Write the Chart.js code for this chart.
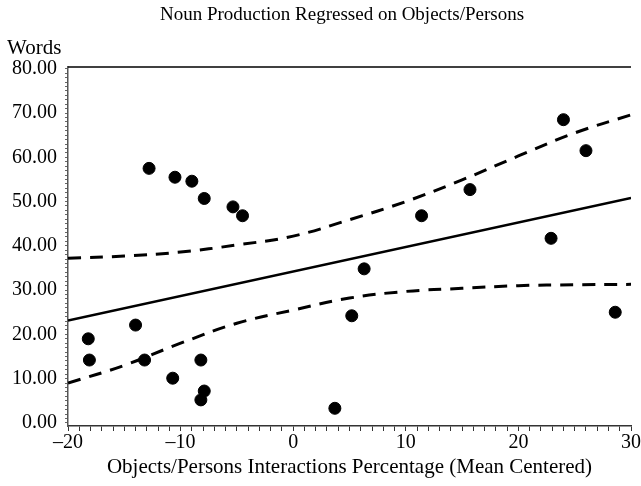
<!DOCTYPE html>
<html>
<head>
<meta charset="utf-8">
<script src="https://cdn.jsdelivr.net/npm/chart.js@4.4.0/dist/chart.umd.min.js"></script>
<style>
  html, body { margin: 0; padding: 0; background: #fff; }
  #wrap { width: 641px; height: 486px; position: relative; }
</style>
</head>
<body>
<div id="wrap"><canvas id="chart"></canvas></div>
<script>
// data
const pointX = [-12.8, -10.5, -9.0, -7.9, -5.35, -4.5, -14.0, -18.2, -18.1, -13.2, -8.2, -10.7, -7.9, -8.2, 3.7, 5.2, 6.3, 11.4, 15.7, 22.9, 24.0, 26.0, 28.6];
const pointY = [57.5, 55.5, 54.6, 50.7, 48.8, 46.8, 22.1, 19.0, 14.2, 14.2, 14.2, 10.1, 7.2, 5.2, 3.3, 24.2, 34.8, 46.8, 52.7, 41.7, 68.5, 61.5, 25.0];

const fitX = [-20, 30];
const fitY = [23.1, 50.8];

const bandX = [-20, -15, -10, -5, 0, 5, 10, 15, 20, 25, 30];
const upperY = [37.2, 37.7, 38.6, 40.2, 42.2, 45.9, 50.0, 54.9, 60.3, 65.5, 69.6];
const lowerY = [9.0, 13.0, 18.0, 22.5, 25.5, 28.2, 29.7, 30.4, 31.0, 31.2, 31.3];

const xTickLabels = { '-20': '\u201320', '-10': '\u201310', '0': '0', '10': '10', '20': '20', '30': '30' };

const serif = '"Liberation Serif", "Times New Roman", serif';

const zip = (xs, ys) => xs.map((x, i) => ({ x, y: ys[i] }));

const textPlugin = {
  id: 'texts',
  afterDraw(chart) {
    const ctx = chart.ctx;
    const a = chart.chartArea;
    ctx.save();
    // top frame line
    ctx.strokeStyle = '#000';
    ctx.lineWidth = 1.5;
    ctx.beginPath();
    ctx.moveTo(a.left, a.top);
    ctx.lineTo(a.right, a.top);
    ctx.stroke();
    ctx.fillStyle = '#000';
    ctx.textBaseline = 'middle';
    ctx.font = '19px ' + serif;
    ctx.textAlign = 'center';
    ctx.fillText('Noun Production Regressed on Objects/Persons', 342, 15);
    ctx.font = '21px ' + serif;
    ctx.textAlign = 'left';
    ctx.fillText('Words', 7, 48);
    ctx.restore();
  }
};

new Chart(document.getElementById('chart'), {
  type: 'scatter',
  data: {
    datasets: [
      {
        label: 'upper',
        type: 'line',
        data: zip(bandX, upperY),
        borderColor: '#000',
        borderWidth: 3,
        borderDash: [13, 9],
        pointRadius: 0,
        tension: 0.4,
        fill: false,
      },
      {
        label: 'lower',
        type: 'line',
        data: zip(bandX, lowerY),
        borderColor: '#000',
        borderWidth: 3,
        borderDash: [13, 9],
        pointRadius: 0,
        tension: 0.4,
        fill: false,
      },
      {
        label: 'fit',
        type: 'line',
        data: zip(fitX, fitY),
        borderColor: '#000',
        borderWidth: 2.5,
        pointRadius: 0,
        fill: false,
      },
      {
        label: 'words',
        data: zip(pointX, pointY),
        backgroundColor: '#000',
        borderColor: '#000',
        pointRadius: 6,
      },
    ]
  },
  options: {
    responsive: true,
    maintainAspectRatio: false,
    animation: false,
    layout: { padding: { top: 67, right: 9, left: 0, bottom: 0 } },
    plugins: {
      legend: { display: false },
      tooltip: { enabled: false },
    },
    scales: {
      x: {
        type: 'linear',
        min: -20,
        max: 30,
        afterFit: s => { s.height = 60; },
        border: { display: true, color: '#333', width: 1.5 },
        grid: { drawOnChartArea: false, drawTicks: true, tickLength: 5, color: '#333', lineWidth: 1 },
        ticks: {
          stepSize: 1,
          autoSkip: false,
          maxRotation: 0,
          includeBounds: false,
          padding: 0,
          color: '#000',
          font: { family: serif, size: 20 },
          callback: v => xTickLabels[String(v)] ?? '',
        },
        title: {
          display: true,
          text: 'Objects/Persons Interactions Percentage (Mean Centered)',
          color: '#000',
          font: { family: serif, size: 21 },
          padding: { top: 0, bottom: 6 },
        },
      },
      y: {
        min: -0.7,
        max: 80.4,
        afterFit: s => { s.width = 68; },
        border: { display: true, color: '#555', width: 1.5 },
        grid: { drawOnChartArea: false, drawTicks: true, tickLength: 3, color: '#666', lineWidth: 1 },
        ticks: {
          stepSize: 1,
          autoSkip: false,
          includeBounds: false,
          padding: 8,
          color: '#000',
          font: { family: serif, size: 20 },
          callback: v => (Math.round(v) % 10 === 0 ? v.toFixed(2) : ''),
        },
      },
    },
  },
  plugins: [textPlugin],
});
</script>
</body>
</html>
